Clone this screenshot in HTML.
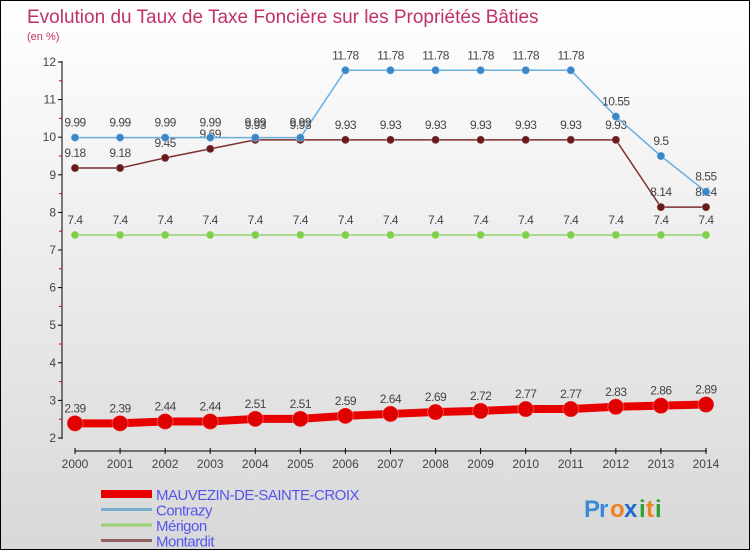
<!DOCTYPE html>
<html><head><meta charset="utf-8"><style>
body{margin:0}
#wrap{width:748px;height:548px;border:1px solid #000;background:linear-gradient(#fff,#d8d8d8);position:relative;font-family:"Liberation Sans",sans-serif;overflow:hidden}
svg{position:absolute;left:0;top:0}
</style></head><body>
<div id="wrap">
<svg id="c" width="748" height="548"></svg>
</div>
<script>
const years=[2000,2001,2002,2003,2004,2005,2006,2007,2008,2009,2010,2011,2012,2013,2014];
const mauvezin=[2.39,2.39,2.44,2.44,2.51,2.51,2.59,2.64,2.69,2.72,2.77,2.77,2.83,2.86,2.89];
const contrazy=[9.99,9.99,9.99,9.99,9.99,9.99,11.78,11.78,11.78,11.78,11.78,11.78,10.55,9.5,8.55];
const merigon=[7.4,7.4,7.4,7.4,7.4,7.4,7.4,7.4,7.4,7.4,7.4,7.4,7.4,7.4,7.4];
const montardit=[9.18,9.18,9.45,9.69,9.93,9.93,9.93,9.93,9.93,9.93,9.93,9.93,9.93,8.14,8.14];
const yTicks=[2,3,4,5,6,7,8,9,10,11,12];
const NS='http://www.w3.org/2000/svg';
const svg=document.getElementById('c');
const X=i=>74+i*45.07, Y=v=>437-(v-2)*37.6;
function mk(t,a,p){const e=document.createElementNS(NS,t);for(const k in a)e.setAttribute(k,a[k]);(p||svg).appendChild(e);return e;}
function txt(x,y,s,a){const e=mk('text',Object.assign({x:x,y:y},a));e.textContent=s;return e;}
let t=txt(26,22,'Evolution du Taux de Taxe Foncière sur les Propriétés Bâties',{'font-size':19,fill:'#c0306a'});


t=txt(26,39,'(en %)',{'font-size':11,fill:'#c0306a'});


let ax=mk('line',{x1:61,y1:60,x2:61,y2:438,stroke:'#000'});


yTicks.forEach(v=>{mk('line',{x1:57,y1:Y(v),x2:61,y2:Y(v),stroke:'#000'});
 if(v<12)mk('line',{x1:58,y1:Y(v+0.5),x2:61,y2:Y(v+0.5),stroke:'#d00'});
 const l=txt(55,Y(v)+4,String(v),{'font-size':12,fill:'#444','text-anchor':'end'});
 
 });
let xa=mk('line',{x1:74,y1:450,x2:706,y2:450,stroke:'#000'});


years.forEach((y,i)=>{mk('line',{x1:X(i),y1:447,x2:X(i),y2:453,stroke:'#000'});
 const l=txt(X(i),467,String(y),{'font-size':12,fill:'#444','text-anchor':'middle'});
 
 });
function series(vals,color,w,r,name,fill){
 const g=mk('g',{});
 
 
 mk('polyline',{points:vals.map((v,i)=>X(i)+','+Y(v)).join(' '),fill:'none',stroke:color,'stroke-width':w},g);
 vals.forEach((v,i)=>{const c=mk('circle',{cx:X(i),cy:Y(v),r:r,fill:fill,stroke:'#fff','stroke-opacity':0.3},g);
  
  
  const l=txt(X(i),Y(v)-11,String(v),{'font-size':12,fill:'#444','text-anchor':'middle','letter-spacing':'-0.5'},g);
  
  });
}
series(merigon,'#8fd36a',1.5,4,'merigon-series','#7ed04a');
series(montardit,'#7a3030',1.5,4,'montardit-series','#6a1a1a');
series(contrazy,'#6aaee0',1.5,4,'contrazy-series','#3a88c8');
series(mauvezin,'#e80000',8,8,'mauvezin-series','#e00000');
const legend=[['MAUVEZIN-DE-SAINTE-CROIX','#e80000',8],['Contrazy','#7aaed0',3],['Mérigon','#9ad070',3],['Montardit','#906060',3]];
legend.forEach((L,i)=>{const g=mk('g',{});
 
 
 const y=493+i*15.5;
 mk('line',{x1:100,y1:y,x2:151,y2:y,stroke:L[1],'stroke-width':L[2]},g);
 txt(155,y+6,L[0],{'font-size':15,fill:'#5555ee','letter-spacing':'-0.5'},g);});
const lg=mk('g',{});


[['P','#3a8ad8'],['r','#3a8ad8'],['o','#f08020'],['x','#1a6ad0'],['i','#30a030'],['t','#f08020'],['i','#30a030']].forEach((c,i)=>{
 txt(583+[0,15,26,40,55,62,71][i],516,c[0],{'font-size':24,'font-weight':'bold',fill:c[1]},lg);});
</script>
</body></html>
